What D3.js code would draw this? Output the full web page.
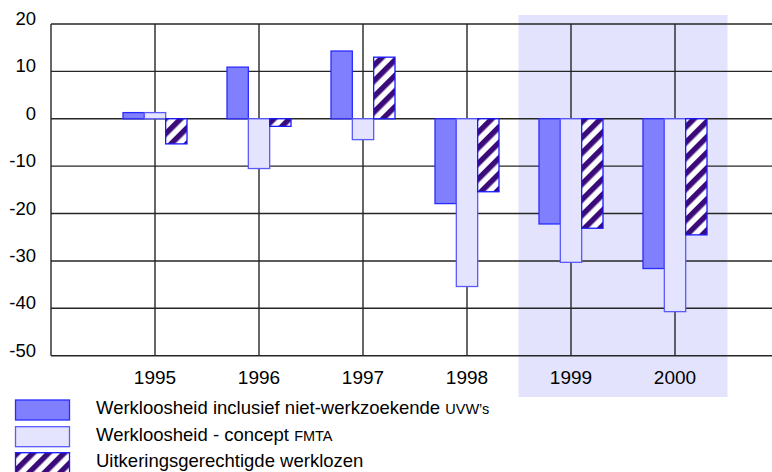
<!DOCTYPE html>
<html>
<head>
<meta charset="utf-8">
<script src="https://cdn.jsdelivr.net/npm/d3@7/dist/d3.min.js"></script>
<style>
  html, body { margin: 0; padding: 0; background: #fff; }
  svg { display: block; font-family: "Liberation Sans", Arial, sans-serif; }
</style>
</head>
<body>
<svg id="chart" width="772" height="472"></svg>
<script>
// Years on the category axis
const years = ["1995", "1996", "1997", "1998", "1999", "2000"];

// Year-on-year changes per series
const werkloosheidInclUvw = [1.3, 10.9, 14.3, -17.9, -22.2, -31.6];
const werkloosheidFmta    = [1.3, -10.5, -4.4, -35.4, -30.3, -40.7];
const uitkeringsgerechtigd = [-5.3, -1.6, 13.0, -15.4, -23.1, -24.5];

// Value axis ticks
const yTicks = [20, 10, 0, -10, -20, -30, -40, -50];

// Years that fall in the shaded forecast band
const shadedYears = ["1999", "2000"];

// Legend entries: main text and the smaller trailing part
const legendMain = ["Werkloosheid inclusief niet-werkzoekende ", "Werkloosheid - concept ", "Uitkeringsgerechtigde werklozen"];
const legendSmall = ["UVW\u2019s", "FMTA", ""];

const seriesKeys = ["incl", "fmta", "uitk"];
const seriesValues = [werkloosheidInclUvw, werkloosheidFmta, uitkeringsgerechtigd];

const svg = d3.select("#chart");

const defs = svg.append("defs");
const hatch = defs.append("pattern")
  .attr("id", "hatch")
  .attr("patternUnits", "userSpaceOnUse")
  .attr("width", 11)
  .attr("height", 11)
  .attr("patternTransform", "rotate(45)");
hatch.append("rect").attr("width", 11).attr("height", 11).attr("fill", "#ffffff");
hatch.append("rect").attr("width", 5.5).attr("height", 11).attr("fill", "#3b0b7a");

const fills = { incl: "#8080ff", fmta: "#e4e4fe", uitk: "url(#hatch)" };
const strokes = { incl: "#2a2aff", fmta: "#5a5aff", uitk: "#1818ff" };

const x = d3.scalePoint().domain(years).range([155, 675]);
const step = x.step();
const plotLeft = x(years[0]) - step;
const plotRight = 772;
const y = d3.scaleLinear().domain([-50, 20]).range([355.7, 24]);
const sub = d3.scaleBand().domain(seriesKeys).range([-32, 32]).paddingInner(0);

// Shaded band behind the last two years
const shadeX0 = x(shadedYears[0]) - step / 2;
const shadeX1 = x(shadedYears[shadedYears.length - 1]) + step / 2;
svg.append("rect")
  .attr("x", shadeX0 - 0.5)
  .attr("y", 15)
  .attr("width", shadeX1 - shadeX0 + 1)
  .attr("height", 397 - 15)
  .attr("fill", "#e3e3fd");

// Grid
const grid = svg.append("g").attr("stroke", "#262626").attr("stroke-width", 1.4);
grid.selectAll("line.h").data(yTicks).join("line")
  .attr("class", "h")
  .attr("x1", plotLeft).attr("x2", plotRight)
  .attr("y1", d => y(d)).attr("y2", d => y(d));
grid.selectAll("line.v").data(years).join("line")
  .attr("class", "v")
  .attr("x1", d => x(d)).attr("x2", d => x(d))
  .attr("y1", y(20)).attr("y2", y(-50));
grid.append("line")
  .attr("x1", plotLeft).attr("x2", plotLeft)
  .attr("y1", y(20)).attr("y2", y(-50));

// Bars
const barData = [];
years.forEach((yr, i) => {
  seriesKeys.forEach((k, j) => barData.push({ year: yr, key: k, value: seriesValues[j][i] }));
});
svg.append("g").selectAll("rect").data(barData).join("rect")
  .attr("x", d => x(d.year) + sub(d.key))
  .attr("width", sub.bandwidth())
  .attr("y", d => y(Math.max(0, d.value)))
  .attr("height", d => Math.abs(y(d.value) - y(0)))
  .attr("fill", d => fills[d.key])
  .attr("stroke", d => strokes[d.key])
  .attr("stroke-width", 1.3);

// Y tick labels
svg.append("g").selectAll("text").data(yTicks).join("text")
  .attr("x", 36)
  .attr("y", d => y(d) + 1)
  .attr("text-anchor", "end")
  .attr("font-size", 18.5)
  .attr("fill", "#000")
  .text(d => d);

// X labels
svg.append("g").selectAll("text").data(years).join("text")
  .attr("x", d => x(d))
  .attr("y", 384)
  .attr("text-anchor", "middle")
  .attr("font-size", 19)
  .attr("fill", "#000")
  .text(d => d);

// Legend
const legend = svg.append("g");
const legendY = [400, 426.7, 452.7];
const legendBase = [414, 440.5, 466.5];
seriesKeys.forEach((k, i) => {
  legend.append("rect")
    .attr("x", 15.5).attr("y", legendY[i])
    .attr("width", 54).attr("height", 20)
    .attr("fill", fills[k])
    .attr("stroke", strokes[k])
    .attr("stroke-width", 1.3);
  const t = legend.append("text")
    .attr("x", 96).attr("y", legendBase[i])
    .attr("font-size", 18.5)
    .attr("fill", "#000");
  t.append("tspan").text(legendMain[i]);
  if (legendSmall[i]) t.append("tspan").attr("font-size", 14.5).text(legendSmall[i]);
});
</script>
</body>
</html>
